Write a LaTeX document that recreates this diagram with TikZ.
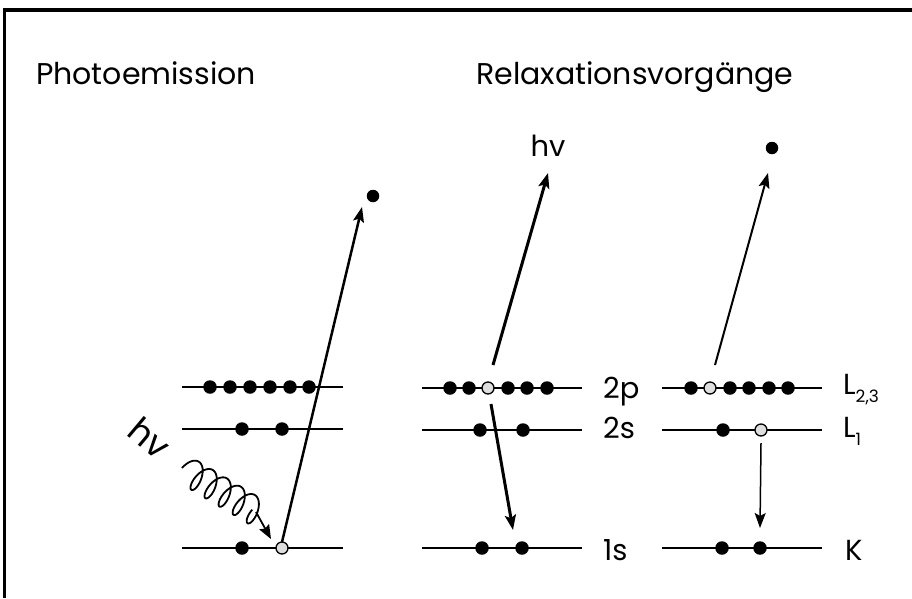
\documentclass[tikz,border=0pt]{standalone}
\usepackage{fontspec}
\setmainfont{Poppins}
\usetikzlibrary{arrows.meta,calc}
\begin{document}
\begin{tikzpicture}[x=1pt,y=-1pt,
  levelline/.style={line width=1.5pt},
  el/.style={circle, fill=black, inner sep=0pt, minimum size=13.5pt},
  hole/.style={circle, draw=black, line width=1.3pt, fill=black!13, inner sep=0pt, minimum size=12pt},
  lbl/.style={font=\fontsize{29}{29}\selectfont, anchor=base west, inner sep=0pt},
  ttl/.style={font=\fontsize{30}{30}\selectfont, anchor=base west, inner sep=0pt},
  tip/.style={-{Stealth[length=15pt,width=11pt,inset=3pt]}},
  thickarr/.style={tip, line width=3pt},
  thinarr/.style={tip, line width=2pt},
  hairarr/.style={tip, line width=1.5pt}]
\useasboundingbox (0,0) rectangle (912,598);
% frame (top and left edges)
\fill (3,8) rectangle (912,12);
\fill (3,8) rectangle (6,598);
% titles
\node[ttl] (t1) at (36,84) {Photoemission};
\node[ttl] (t2) at (476,84) {Relaxationsvorgänge};
% ---------- left group ----------
\draw[levelline] (182,387) -- (343,387);
\draw[levelline] (182,429) -- (343,429);
\draw[levelline] (182,548) -- (343,548);
\foreach \x [count=\i] in {210,230,250,270,290,309} \node[el] (a2p\i) at (\x,387) {};
\node[el] (a2s1) at (242,429) {};
\node[el] (a2s2) at (282,429) {};
\node[el] (a1s1) at (242,548) {};
\node[hole] (a1s2) at (282,548) {};
\node[el, minimum size=12.5pt] (pe) at (373,196) {};
\coordinate (pestart) at (282,542);
\coordinate (peend) at (362,207);
\draw[thinarr, line width=2.5pt] (pestart) -- (peend);
% incoming photon
\node[font=\fontsize{35}{35}\selectfont, rotate=-40, inner sep=0pt] (hvin) at (150,438) {hv};
\coordinate (wstart) at (182,468);
\coordinate (wmid) at (256,512);
\coordinate (wend) at (271,539);
\begin{scope}[shift={(wstart)}, rotate=-30.7]
  \draw[line width=1.8pt, line join=round, smooth, samples=320, domain=0:31.416]
    plot ({2.6*\x - 7*cos(\x r) + 7}, {-14*sin(\x r)});
\end{scope}
\draw[-{Stealth[length=14pt,width=11pt,inset=2pt]}, line width=1.8pt] (wmid) -- (wend);
% ---------- middle group ----------
\draw[levelline] (422,388) -- (582,388);
\draw[levelline] (422,430) -- (582,430);
\draw[levelline] (422,548) -- (582,548);
\foreach \x [count=\i] in {450,469,488,508,527,547} {
  \ifnum\i=3 \node[hole] (b2p\i) at (\x,388) {};
  \else \node[el] (b2p\i) at (\x,388) {}; \fi }
\node[el] (b2s1) at (480,430) {};
\node[el] (b2s2) at (523,430) {};
\node[el] (b1s1) at (482,548) {};
\node[el] (b1s2) at (522,548) {};
\node[lbl] (l2p) at (603,398) {2p};
\node[lbl] (l2s) at (603,438) {2s};
\node[lbl] (l1s) at (603,560) {1s};
\node[font=\fontsize{29}{29}\selectfont, inner sep=0pt] (hvout) at (548,146) {hv};
\coordinate (bupstart) at (493,365);
\coordinate (bupend) at (548,173);
\draw[thickarr] (bupstart) -- (bupend);
\coordinate (bdnstart) at (491,404);
\coordinate (bdnend) at (513,530);
\draw[thickarr] (bdnstart) -- (bdnend);
% ---------- right group ----------
\draw[levelline] (662,388) -- (822,388);
\draw[levelline] (662,430) -- (822,430);
\draw[levelline] (662,548) -- (822,548);
\foreach \x [count=\i] in {691,710,730,749,769,788} {
  \ifnum\i=2 \node[hole] (c2p\i) at (\x,388) {};
  \else \node[el] (c2p\i) at (\x,388) {}; \fi }
\node[el] (c2s1) at (723,430) {};
\node[hole] (c2s2) at (761,430) {};
\node[el] (c1s1) at (722,548) {};
\node[el] (c1s2) at (760,548) {};
\node[el, minimum size=12.5pt] (ae) at (772,148) {};
\node[lbl] (lL23) at (843,394) {L\raisebox{-8pt}{\fontsize{17}{17}\selectfont 2,3}};
\node[lbl] (lL1) at (843,437) {L\raisebox{-8pt}{\fontsize{17}{17}\selectfont 1}};
\node[lbl] (lK) at (845,560) {K};
\coordinate (cupstart) at (715,365);
\coordinate (cupend) at (768,173);
\draw[thinarr] (cupstart) -- (cupend);
\coordinate (cdnstart) at (761,443);
\coordinate (cdnend) at (760,528);
\draw[hairarr] (cdnstart) -- (cdnend);
\end{tikzpicture}
\end{document}
